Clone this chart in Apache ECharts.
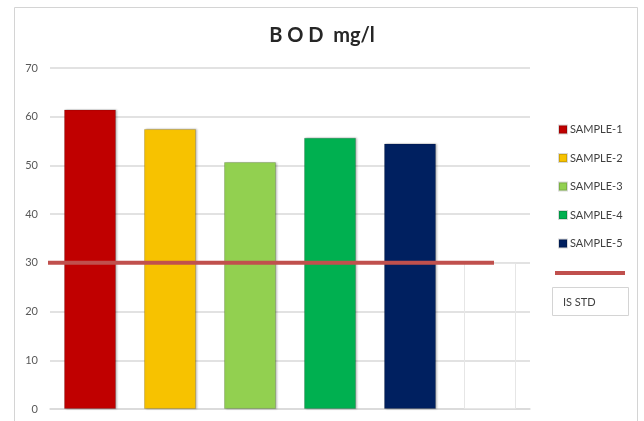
<!DOCTYPE html>
<html>
<head>
<meta charset="utf-8">
<script src="https://cdn.jsdelivr.net/npm/echarts@6/dist/echarts.min.js"></script>
<style>html,body{margin:0;padding:0;background:#fff;}#c{width:644px;height:421px;}</style>
</head>
<body>
<div id="c"></div>
<script>
var titleText = 'B O D  mg/l';
var categories = ['SAMPLE-1', 'SAMPLE-2', 'SAMPLE-3', 'SAMPLE-4', 'SAMPLE-5', 'IS STD'];
var sampleNames = ['SAMPLE-1', 'SAMPLE-2', 'SAMPLE-3', 'SAMPLE-4', 'SAMPLE-5'];
var sampleValues = [61.5, 57.5, 50.7, 55.7, 54.5];
var sampleColors = ['#c00000', '#f7c200', '#92d050', '#00b050', '#002060'];
var stdValue = 30;
var stdLineX = [-0.04, 5.55];
var yTicks = [0, 10, 20, 30, 40, 50, 60, 70];
var stdLabel = 'IS STD';

var chart = echarts.init(document.getElementById('c'), null, {renderer: 'canvas'});
var FONT = 'Lato, "Open Sans", sans-serif';

var series = sampleNames.map(function (name, i) {
  var d = categories.map(function (c, j) { return j === i ? sampleValues[i] : null; });
  return {
    name: name,
    type: 'bar',
    stack: 'all',
    barWidth: '65%',
    data: d,
    itemStyle: {
      color: sampleColors[i],
      borderColor: 'rgba(0,0,0,0.15)',
      borderWidth: 1,
      shadowColor: 'rgba(0,0,0,0.25)',
      shadowBlur: 2,
      shadowOffsetX: 1
    }
  };
});

// empty standard bar
series.push({
  name: stdLabel,
  type: 'bar',
  stack: 'all',
  barWidth: '65%',
  data: categories.map(function (c, j) { return j === categories.length - 1 ? stdValue : null; }),
  itemStyle: {color: 'rgba(255,255,255,0)', borderColor: '#e6e6e6', borderWidth: 1},
  z: 1
});

// standard line
series.push({
  name: 'stdline',
  type: 'line',
  xAxisIndex: 1,
  data: stdLineX.map(function (x) { return [x, stdValue]; }),
  symbol: 'none',
  lineStyle: {color: '#c0504d', width: 4, cap: 'butt'},
  clip: false,
  z: 5
});

chart.setOption({
  animation: false,
  backgroundColor: '#fff',
  title: {
    text: titleText,
    left: 'center',
    top: 21,
    textStyle: {fontFamily: FONT, fontSize: 20, fontWeight: 'bold', color: '#262626'}
  },
  legend: {
    data: sampleNames,
    orient: 'vertical',
    left: 553,
    top: 119,
    itemWidth: 8,
    itemHeight: 8,
    itemGap: 17.5,
    icon: 'rect',
    textStyle: {fontFamily: FONT, fontSize: 11, color: '#404040', padding: [0, 0, 0, -2]}
  },
  grid: {left: 50, right: 114, top: 68, bottom: 12, containLabel: false},
  xAxis: [
    {
      type: 'category',
      data: categories,
      axisLine: {show: true, lineStyle: {color: '#d9d9d9', width: 1.5}},
      axisTick: {show: false},
      axisLabel: {show: false},
      splitLine: {show: false}
    },
    {
      type: 'value',
      min: 0,
      max: categories.length,
      show: false
    }
  ],
  yAxis: {
    type: 'value',
    min: yTicks[0],
    max: yTicks[yTicks.length - 1],
    interval: yTicks[1] - yTicks[0],
    axisLine: {show: false},
    axisTick: {show: false},
    axisLabel: {fontFamily: FONT, fontSize: 11, color: '#595959', margin: 12},
    splitLine: {lineStyle: {color: '#d9d9d9', width: 1.5}}
  },
  series: series,
  graphic: [
    {type: 'rect', shape: {x: 14.5, y: 7.5, width: 623, height: 420}, style: {fill: 'none', stroke: '#d4d4d4', lineWidth: 1}, z: -1},
    {type: 'line', shape: {x1: 555, y1: 273, x2: 625, y2: 273}, style: {stroke: '#c0504d', lineWidth: 4}},
    {type: 'rect', shape: {x: 552.5, y: 287.5, width: 76, height: 28}, style: {fill: '#fff', stroke: '#d4d4d4', lineWidth: 1}},
    {type: 'text', x: 563, y: 302, style: {text: stdLabel, fontFamily: FONT, fontSize: 11, fill: '#404040', verticalAlign: 'middle'}}
  ]
});
</script>
</body>
</html>
